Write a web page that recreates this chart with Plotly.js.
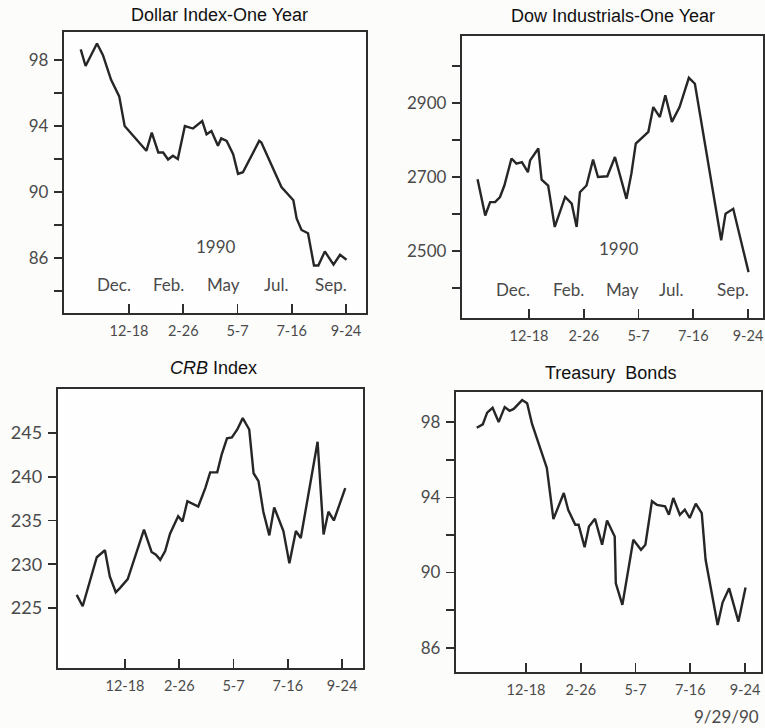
<!DOCTYPE html>
<html><head><meta charset="utf-8">
<script src="https://cdn.plot.ly/plotly-3.0.1.min.js"></script>
<style>html,body{margin:0;padding:0;background:#fcfcfb}</style>
</head><body><div id="chart" style="width:765px;height:728px"></div>
<script>
// Week index: 0 = mid-Oct 1989, 9 = 12-18-89, 49 = 9-24-90
const tickWeeks = [9, 19, 29, 39, 49];
const tickLabels = ['12-18', '2-26', '5-7', '7-16', '9-24'];
const monthLabels = ['Dec.', 'Feb.', 'May', 'Jul.', 'Sep.'];
const crbTicks = [225, 230, 235, 240, 245];

const dollarWeeks = [0.1,1.0,3.1,4.2,5.7,7.2,8.2,12.2,13.2,14.4,15.3,16.2,17.1,18.0,19.3,20.8,22.5,23.3,24.2,25.4,26.0,27.0,28.2,29.1,30.0,33.0,33.4,37.1,39.3,39.9,40.8,42.0,43.1,43.9,45.1,46.7,47.9,49.1];
const dollarValues = [98.65,97.64,99.0,98.3,96.8,95.8,94.0,92.5,93.6,92.4,92.4,91.97,92.2,92.0,94.0,93.85,94.3,93.5,93.7,92.8,93.25,93.1,92.3,91.1,91.2,93.1,93.0,90.3,89.5,88.4,87.7,87.5,85.55,85.55,86.4,85.6,86.2,85.9];

const dowWeeks = [-0.4,1.0,1.9,2.8,3.7,4.5,5.8,6.7,7.7,8.8,9.2,10.7,11.3,12.5,13.7,15.6,16.8,17.7,18.3,19.5,20.7,21.6,23.3,24.7,26.8,27.7,28.5,29.9,30.8,31.7,32.9,33.9,35.1,36.5,38.2,39.3,44.1,44.9,46.3,49.1];
const dowValues = [2694,2596,2632,2632,2646,2677,2750,2736,2740,2713,2745,2777,2693,2677,2565,2646,2628,2565,2659,2677,2747,2700,2702,2754,2641,2709,2790,2808,2822,2889,2862,2921,2849,2889,2968,2952,2529,2601,2614,2443];

const crbWeeks = [0.1,1.2,3.8,5.3,6.2,7.3,8.1,9.5,12.5,13.9,14.7,15.5,16.4,17.3,18.8,19.6,20.5,22.5,23.8,24.7,26.0,26.8,27.8,28.7,29.7,30.7,31.9,32.7,33.6,34.5,35.6,36.5,38.2,39.3,40.5,41.4,44.5,45.6,46.5,47.5,49.6];
const crbValues = [226.5,225.2,230.8,231.6,228.6,226.8,227.3,228.3,233.95,231.4,231.1,230.5,231.5,233.5,235.5,234.9,237.2,236.6,238.7,240.5,240.5,242.5,244.4,244.5,245.4,246.7,245.4,240.4,239.5,236.0,233.3,236.5,233.8,230.1,233.8,233.0,244.0,233.4,236.0,235.0,238.7];

const bondWeeks = [0.0,1.1,1.9,2.9,4.0,5.1,6.0,6.75,8.3,9.2,10.1,12.8,14.0,15.9,16.7,18.0,18.6,19.7,20.5,21.6,22.9,23.8,25.2,25.4,26.6,28.6,30.0,30.8,32.0,32.9,34.4,35.1,35.9,37.1,38.0,38.9,40.0,41.1,41.8,44.0,44.9,46.1,47.8,49.1];
const bondValues = [97.7,97.88,98.5,98.76,98.0,98.8,98.6,98.7,99.17,99.0,97.9,95.56,92.84,94.23,93.34,92.54,92.54,91.35,92.45,92.86,91.48,92.77,91.92,89.43,88.28,91.74,91.21,91.48,93.79,93.6,93.52,93.07,93.96,93.07,93.34,92.9,93.66,93.16,90.68,87.21,88.4,89.16,87.39,89.2];

const W = 765, H = 728;
const dx = (a, b) => [a / W, b / W];
const dy = (top, bottom) => [1 - bottom / H, 1 - top / H];
const px = x => x / W, py = y => 1 - y / H;

const FRAME = '#2e2e2e', LINE = '#262626', TXT = '#4a4a4a';
const tickFont = {family: 'Lato, "Open Sans", sans-serif', size: 17, color: TXT};
const xFont = {family: 'Lato, "Open Sans", sans-serif', size: 14.5, color: TXT};

function xAxis(domain, range, anchor) {
  return {domain, range, anchor, tickmode: 'array', tickvals: tickWeeks, ticktext: tickLabels,
    ticks: 'inside', ticklen: 9, tickwidth: 1.6, tickcolor: FRAME,
    showline: true, linewidth: 2.2, linecolor: FRAME, mirror: true,
    showgrid: false, zeroline: false, tickfont: xFont, ticklabelstandoff: 3, fixedrange: true};
}
function yAxis(domain, range, anchor, tick0, dtick, minor, fontSize) {
  const ax = {domain, range, anchor, tickmode: 'linear', tick0, dtick,
    ticks: 'outside', ticklen: 8, tickwidth: 1.6, tickcolor: FRAME,
    showline: true, linewidth: 2.2, linecolor: FRAME, mirror: true,
    showgrid: false, zeroline: false, ticklabelstandoff: 2,
    tickfont: Object.assign({}, tickFont, {size: fontSize || 17}), fixedrange: true};
  if (minor) ax.minor = {tick0: minor[0], dtick: minor[1], ticks: 'outside', ticklen: 8, tickwidth: 1.6, tickcolor: FRAME, showgrid: false};
  return ax;
}

const lineStyle = {color: LINE, width: 2.4};
const traces = [
  {x: dollarWeeks, y: dollarValues, xaxis: 'x', yaxis: 'y', mode: 'lines', line: lineStyle, hoverinfo: 'skip'},
  {x: dowWeeks, y: dowValues, xaxis: 'x2', yaxis: 'y2', mode: 'lines', line: lineStyle, hoverinfo: 'skip'},
  {x: crbWeeks, y: crbValues, xaxis: 'x3', yaxis: 'y3', mode: 'lines', line: lineStyle, hoverinfo: 'skip'},
  {x: bondWeeks, y: bondValues, xaxis: 'x4', yaxis: 'y4', mode: 'lines', line: lineStyle, hoverinfo: 'skip'}
];

const titleFont = {family: '"Liberation Sans", Arial, sans-serif', size: 18, color: '#111'};
const monthFont = {family: 'Lato, "Open Sans", sans-serif', size: 17, color: TXT};
const base = {xref: 'paper', yref: 'paper', showarrow: false, xanchor: 'center', yanchor: 'middle'};
const annotations = [
  {text: 'Dollar Index-One Year', x: px(220), y: py(15), font: titleFont},
  {text: 'Dow Industrials-One Year', x: px(613), y: py(16), font: titleFont},
  {text: '<i>CRB</i> Index', x: px(213), y: py(368), font: titleFont},
  {text: 'Treasury  Bonds', x: px(610), y: py(373), font: titleFont}
];

const dollarMonthX = [114, 168, 223, 276, 331];
const dowMonthX = [513, 568, 622, 671, 733];
monthLabels.forEach((m, i) => {
  annotations.push({text: m, x: px(dollarMonthX[i]), y: py(285), font: monthFont});
  annotations.push({text: m, x: px(dowMonthX[i]), y: py(290), font: monthFont});
});
annotations.push({text: '1990', x: px(216), y: py(246), font: monthFont});
annotations.push({text: '1990', x: px(619), y: py(248), font: monthFont});
annotations.push({text: '9/29/90', x: px(726), y: py(716), font: monthFont});
annotations.forEach(a => Object.assign(a, base, {text: a.text}));

const yax3 = yAxis(dy(389, 668), [218.14, 250.03], 'x3', 225, 5, null, 18);
yax3.tickmode = 'array'; yax3.tickvals = crbTicks; yax3.ticktext = crbTicks.map(String);

const layout = {
  width: W, height: H, margin: {l: 0, r: 0, t: 0, b: 0},
  paper_bgcolor: '#fcfcfb', plot_bgcolor: '#fefefe', showlegend: false,
  xaxis: xAxis(dx(64, 366), [-2.98, 52.69], 'y'),
  yaxis: yAxis(dy(32, 313), [82.67, 99.7], 'x', 86, 4, [84, 2]),
  xaxis2: xAxis(dx(462, 763), [-3.24, 51.74], 'y2'),
  yaxis2: yAxis(dy(36, 318), [2319, 3081], 'x2', 2500, 200, [2400, 100]),
  xaxis3: xAxis(dx(58, 363), [-3.35, 52.87], 'y3'),
  yaxis3: yax3,
  xaxis4: xAxis(dx(456, 761), [-3.79, 51.92], 'y4'),
  yaxis4: yAxis(dy(392, 672), [84.71, 99.6], 'x4', 86, 4, [84, 2]),
  annotations
};

Plotly.newPlot('chart', traces, layout, {staticPlot: true, displayModeBar: false});
</script>
</body></html>
